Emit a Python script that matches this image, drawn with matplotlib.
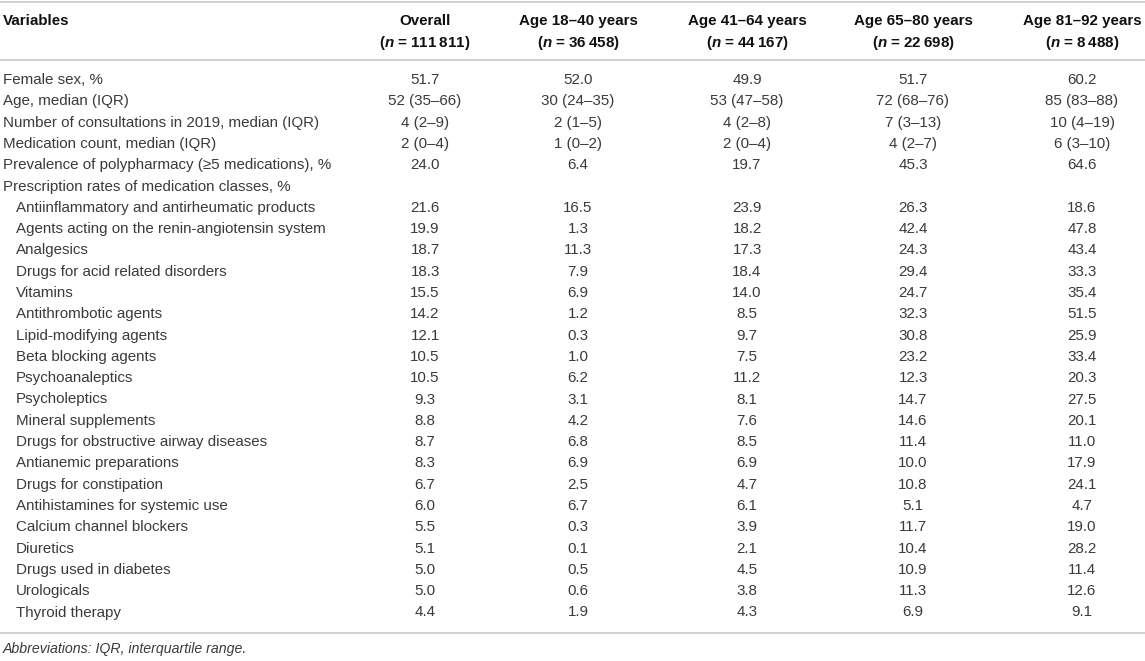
import matplotlib
matplotlib.use("Agg")
import matplotlib.pyplot as plt

# ---------------- data ----------------
col_titles = ["Overall", "Age 18\u201340 years", "Age 41\u201364 years",
              "Age 65\u201380 years", "Age 81\u201392 years"]
col_n = ["111\u2009811", "36\u2009458", "44\u2009167", "22\u2009698", "8\u2009488"]

row_labels = [
    "Female sex, %",
    "Age, median (IQR)",
    "Number of consultations in 2019, median (IQR)",
    "Medication count, median (IQR)",
    "Prevalence of polypharmacy (\u22655 medications), %",
    "Prescription rates of medication classes, %",
    "Antiinflammatory and antirheumatic products",
    "Agents acting on the renin-angiotensin system",
    "Analgesics",
    "Drugs for acid related disorders",
    "Vitamins",
    "Antithrombotic agents",
    "Lipid-modifying agents",
    "Beta blocking agents",
    "Psychoanaleptics",
    "Psycholeptics",
    "Mineral supplements",
    "Drugs for obstructive airway diseases",
    "Antianemic preparations",
    "Drugs for constipation",
    "Antihistamines for systemic use",
    "Calcium channel blockers",
    "Diuretics",
    "Drugs used in diabetes",
    "Urologicals",
    "Thyroid therapy",
]
indented = [False] * 6 + [True] * 20

overall = ["51.7", "52 (35\u201366)", "4 (2\u20139)", "2 (0\u20134)", "24.0", "",
           "21.6", "19.9", "18.7", "18.3", "15.5", "14.2", "12.1", "10.5", "10.5",
           "9.3", "8.8", "8.7", "8.3", "6.7", "6.0", "5.5", "5.1", "5.0", "5.0", "4.4"]
age_18_40 = ["52.0", "30 (24\u201335)", "2 (1\u20135)", "1 (0\u20132)", "6.4", "",
             "16.5", "1.3", "11.3", "7.9", "6.9", "1.2", "0.3", "1.0", "6.2",
             "3.1", "4.2", "6.8", "6.9", "2.5", "6.7", "0.3", "0.1", "0.5", "0.6", "1.9"]
age_41_64 = ["49.9", "53 (47\u201358)", "4 (2\u20138)", "2 (0\u20134)", "19.7", "",
             "23.9", "18.2", "17.3", "18.4", "14.0", "8.5", "9.7", "7.5", "11.2",
             "8.1", "7.6", "8.5", "6.9", "4.7", "6.1", "3.9", "2.1", "4.5", "3.8", "4.3"]
age_65_80 = ["51.7", "72 (68\u201376)", "7 (3\u201313)", "4 (2\u20137)", "45.3", "",
             "26.3", "42.4", "24.3", "29.4", "24.7", "32.3", "30.8", "23.2", "12.3",
             "14.7", "14.6", "11.4", "10.0", "10.8", "5.1", "11.7", "10.4", "10.9", "11.3", "6.9"]
age_81_92 = ["60.2", "85 (83\u201388)", "10 (4\u201319)", "6 (3\u201310)", "64.6", "",
             "18.6", "47.8", "43.4", "33.3", "35.4", "51.5", "25.9", "33.4", "20.3",
             "27.5", "20.1", "11.0", "17.9", "24.1", "4.7", "19.0", "28.2", "11.4", "12.6", "9.1"]
columns = [overall, age_18_40, age_41_64, age_65_80, age_81_92]

footnote = "Abbreviations: IQR, interquartile range."

# ---------------- layout ----------------
W, H = 1145, 661
plt.rcParams["mathtext.fontset"] = "custom"
plt.rcParams["mathtext.it"] = "Liberation Sans:italic:bold"
plt.rcParams["mathtext.rm"] = "Liberation Sans:bold"

fig = plt.figure(figsize=(W / 100, H / 100), dpi=100)
ax = fig.add_axes([0, 0, 1, 1])
ax.set_xlim(0, W)
ax.set_ylim(H, 0)
ax.axis("off")

FONT = "Liberation Sans"
FS = 10.9
body_c = "#3a3a3a"
head_c = "#111111"
rule_c = "#cfcfcf"

col_x = [425, 578, 747, 913, 1082]
x_label = 3
x_indent = 16
y0 = 80
step = 21.3

# rules
for y in (1.5, 60, 633):
    ax.plot([0, W], [y, y], color=rule_c, lw=1.3, solid_capstyle="butt")

# header
ax.text(x_label, 21, "Variables", fontfamily=FONT, fontweight="bold",
        fontsize=FS, color=head_c, ha="left", va="center")
for cx, t, n in zip(col_x, col_titles, col_n):
    ax.text(cx, 21, t, fontfamily=FONT, fontweight="bold", fontsize=FS,
            color=head_c, ha="center", va="center")
    ax.text(cx, 43, "($n$ = " + n + ")", fontfamily=FONT, fontweight="bold",
            fontsize=FS, color=head_c, ha="center", va="center")

# body
for i, lab in enumerate(row_labels):
    y = y0 + i * step
    ax.text(x_indent if indented[i] else x_label, y, lab, fontfamily=FONT,
            fontsize=FS, color=body_c, ha="left", va="center")
    for cx, col in zip(col_x, columns):
        if col[i]:
            ax.text(cx, y, col[i], fontfamily=FONT, fontsize=FS, color=body_c,
                    ha="center", va="center")

ax.text(x_label, 649, footnote, fontfamily=FONT, fontstyle="italic",
        fontsize=FS * 0.93, color=body_c, ha="left", va="center")

fig.savefig("out.png", dpi=100, facecolor="white")
